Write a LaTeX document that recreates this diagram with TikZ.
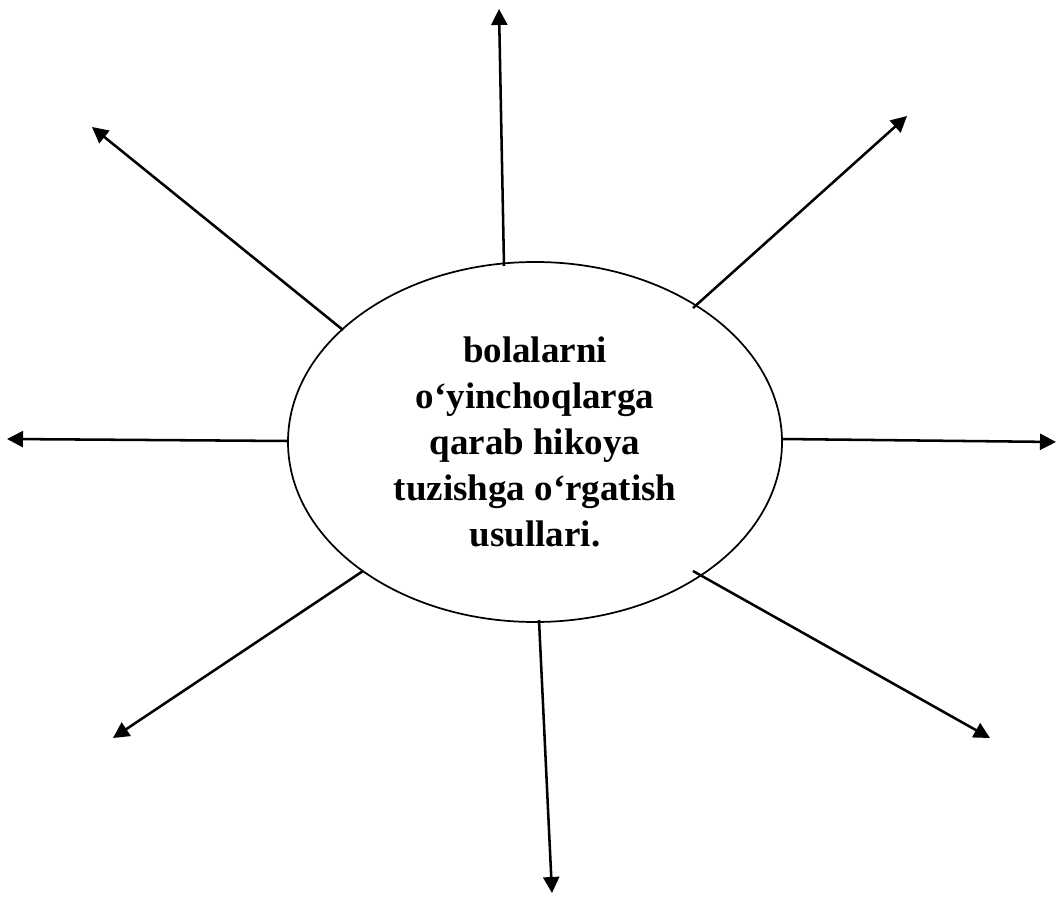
\documentclass[tikz,border=0pt]{standalone}
\usepackage{fontspec}
\setmainfont{Liberation Serif}
\usetikzlibrary{arrows.meta,shapes.geometric}
\begin{document}
\begin{tikzpicture}[x=0.75pt,y=-0.75pt,
  arr/.style={line width=1.9pt,-{Triangle[length=12pt,width=12pt]}},
  oval/.style={ellipse,draw,line width=1.3pt,minimum width=370.5pt,minimum height=270pt,inner sep=0pt,align=center,
    font=\fontsize{27.75pt}{34.5pt}\selectfont\bfseries}]
\useasboundingbox (0,0) rectangle (1057,898);
\node[oval] (c) at (535,442) {bolalarni\\o‘yinchoqlarga\\qarab hikoya\\tuzishga o‘rgatish\\usullari.};
% start points
\coordinate (s1) at (504,266);
\coordinate (s2) at (693,308);
\coordinate (s3) at (781,439);
\coordinate (s4) at (693,571);
\coordinate (s5) at (539,620);
\coordinate (s6) at (363,571);
\coordinate (s7) at (288,441);
\coordinate (s8) at (343,330);
% tips
\coordinate (t1) at (499,9);
\coordinate (t2) at (907,116);
\coordinate (t3) at (1056,442);
\coordinate (t4) at (990,738);
\coordinate (t5) at (552,893);
\coordinate (t6) at (113,738);
\coordinate (t7) at (7,439);
\coordinate (t8) at (92,127);
\foreach \i in {1,...,8} {\draw[arr] (s\i) -- (t\i);}
\end{tikzpicture}
\end{document}
